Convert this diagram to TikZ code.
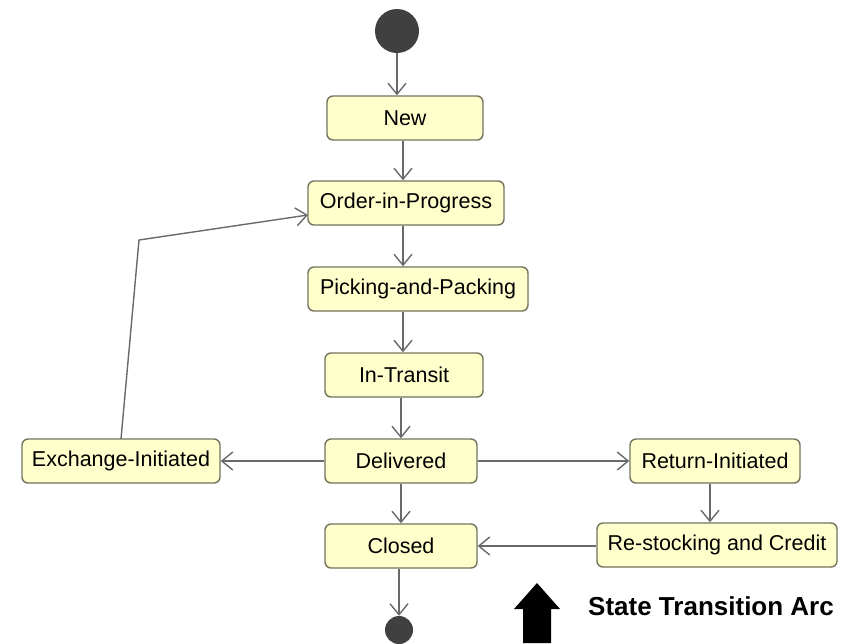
\documentclass[tikz,border=0pt]{standalone}
\usepackage{fontspec}
\setmainfont{Liberation Sans}
\usetikzlibrary{arrows.meta}
\definecolor{statefill}{RGB}{255,255,204}
\definecolor{stateedge}{RGB}{115,115,95}
\definecolor{arcgrey}{RGB}{105,105,105}
\definecolor{pseudo}{RGB}{64,64,64}
\tikzset{
  statebox/.style={draw=stateedge, fill=statefill, line width=1.4pt,
    rounded corners=6pt, inner sep=0pt, minimum height=44pt,
    font=\fontsize{21.5}{24}\selectfont},
  arc/.style={draw=arcgrey, line width=1.4pt,
    -{Straight Barb[length=11pt,width=18pt,line width=1.4pt]}},
  plain/.style={draw=arcgrey, line width=1.4pt},
}
\begin{document}
\begin{tikzpicture}[x=1pt,y=-1pt]
\useasboundingbox (0,0) rectangle (861,643);

% pseudo states
\node[circle, fill=pseudo, minimum size=44pt, inner sep=0pt] (start) at (397,31) {};
\node[circle, fill=pseudo, minimum size=28pt, inner sep=0pt] (final) at (399,630) {};

% states
\node[statebox, minimum width=156pt] (new) at (405,118) {New};
\node[statebox, minimum width=196pt] (order) at (406,203) {Order-in-Progress};
\node[statebox, minimum width=220pt] (pick) at (418,289) {Picking-and-Packing};
\node[statebox, minimum width=158pt] (transit) at (404,375) {In-Transit};
\node[statebox, minimum width=152pt] (deliv) at (401,461) {Delivered};
\node[statebox, minimum width=152pt] (closed) at (401,546) {Closed};
\node[statebox, minimum width=198pt] (exch) at (121,461) {Exchange-Initiated};
\node[statebox, minimum width=170pt] (ret) at (715,461) {Return-Initiated};
\node[statebox, minimum width=240pt] (restock) at (717,545) {Re-stocking and Credit};

% waypoints of the exchange loop
\coordinate (exfoot) at (121,439);
\coordinate (exbend) at (139,240);
\coordinate (ordin) at (308,215);

% transitions
\draw[arc] (start.south) -- (start.south |- new.north);
\draw[arc] (new.south -| 403,0) -- (order.north -| 403,0);
\draw[arc] (order.south -| 403,0) -- (pick.north -| 403,0);
\draw[arc] (pick.south -| 403,0) -- (transit.north -| 403,0);
\draw[arc] (transit.south -| 401,0) -- (deliv.north -| 401,0);
\draw[arc] (deliv.south) -- (closed.north);
\draw[arc] (closed.south -| 399,0) -- (final.north);
\draw[arc] (deliv.west) -- (exch.east);
\draw[arc] (deliv.east) -- (ret.west);
\draw[arc] (ret.south -| 710,0) -- (restock.north -| 710,0);
\draw[arc] (restock.west |- closed.east) -- (closed.east);
\draw[arc] (exfoot) -- (exbend) -- (ordin);

% legend
\fill (523,643) -- (523,609) -- (514,609) -- (537,583) -- (560,609)
  -- (551,609) -- (551,643) -- cycle;
\node[anchor=west, inner sep=0pt, font=\fontsize{26}{30}\selectfont\bfseries]
  (legend) at (588,606) {State Transition Arc};
\end{tikzpicture}
\end{document}
